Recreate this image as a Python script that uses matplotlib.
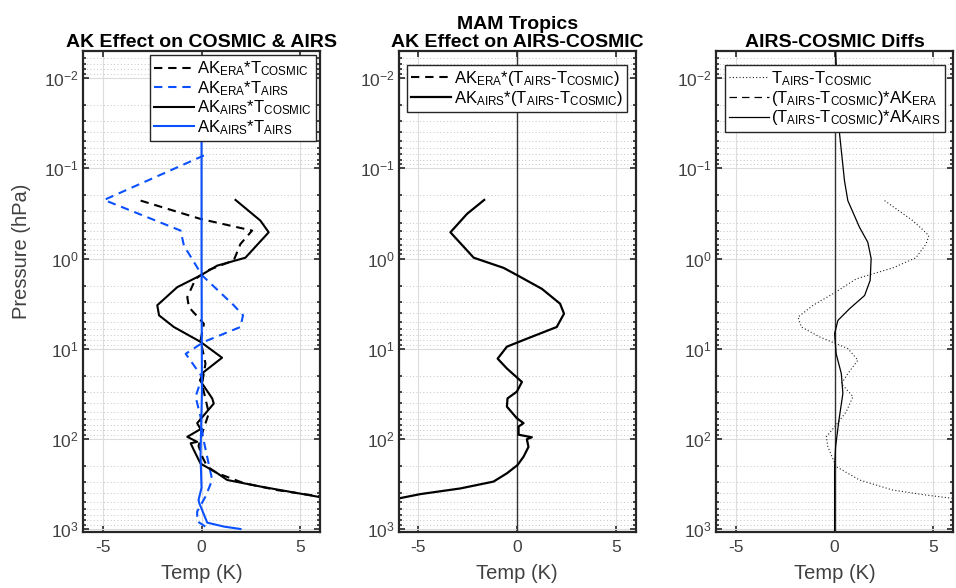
import numpy as np
import matplotlib
matplotlib.use("Agg")
import matplotlib.pyplot as plt

plt.rcParams['font.family'] = ['Liberation Sans', 'DejaVu Sans']
plt.rcParams['mathtext.fontset'] = 'custom'
plt.rcParams['mathtext.rm'] = 'Liberation Sans'
plt.rcParams['mathtext.it'] = 'Liberation Sans'
plt.rcParams['mathtext.default'] = 'regular'
plt.rcParams['axes.unicode_minus'] = False

BLUE = '#0a50ff'
DASH = (0, (4, 2.8))

# panel 1: AK effect on COSMIC & AIRS
era_cosmic_t = [-3.08, -0.05, 2.56, 1.97, 1.63, 0.29, -0.30, -0.72, -0.64, 0.12, -0.05, 0.20, 0.03,
                0.10, 0.37, 0.03, -0.15, 0.05, 0.29, 0.79, 2.14, 3.82, 6.0, 7.5]
era_cosmic_p = [0.228, 0.364, 0.49, 0.69, 1.05, 1.36, 1.68, 2.68, 3.46, 5.3, 8.1, 14.6, 24.4,
                29, 52, 87, 120, 160, 203, 240, 310, 370, 436, 480]

era_airs_t = [0.12, -4.93, -1.06, -0.89, 0.03, 1.63, 2.10, 1.97, 0.12, -0.80, 0.03, -0.30,
              -0.05, 0.07, 0.29, 0.54, 0.20, -0.22, -0.22, 0.29]
era_airs_p = [0.072, 0.224, 0.49, 0.72, 1.54, 3.3, 4.27, 5.75, 8.4, 11.4, 20.6, 34,
              57, 95, 160, 286, 437, 640, 820, 970]

airs_cosmic_t = [1.72, 2.98, 3.40, 2.22, 0.79, -0.05, -1.23, -2.24, -2.15, -1.40, -0.05, 1.04,
                 0.12, -0.08, 0.54, 0.62, -0.22, -0.05, -0.72, -0.22, -0.55, -0.39, -0.05,
                 0.79, 1.30, 2.98, 6.0, 7.5]
airs_cosmic_p = [0.224, 0.38, 0.512, 0.98, 1.2, 1.54, 2.08, 3.3, 4.27, 5.75, 8.4, 12.6,
                 18.1, 22.4, 35.6, 40.6, 67, 78, 95, 108, 112, 133, 188,
                 240, 286, 338, 443, 480]

airs_airs_t = [0.0, 0.0, 0.02, -0.05, 0.0, -0.15, -0.12, 0.29, 1.13, 1.97]
airs_airs_p = [0.05, 1.0, 30, 150, 350, 475, 513, 850, 940, 1000]

# panel 2: AK effect on AIRS-COSMIC
diff_airs_t = [-1.67, -2.54, -3.38, -2.20, -0.69, 0.02, 1.25, 2.17, 2.37, 2.00, 0.49, -0.52,
               -0.99, -0.52, 0.24, -0.02, -0.49, -0.52, -0.02, 0.32, 0.07, 0.07, 0.74, 0.49,
               0.57, 0.32, 0.02, -0.52, -1.20, -2.88, -4.90, -6.0, -7.5]
diff_airs_p = [0.224, 0.32, 0.512, 0.98, 1.27, 1.54, 2.17, 3.17, 4.09, 5.75, 7.75, 9.5,
               12.9, 16.6, 23.4, 30, 35.6, 44, 59, 67, 73, 90, 96, 101,
               123, 158, 195, 241, 298, 355, 410, 458, 500]

# panel 3: AIRS-COSMIC diffs
raw_t = [2.53, 3.96, 4.77, 4.63, 4.12, 2.95, 1.10, -0.08, -1.09, -1.85, -1.68, -0.76, 0.67,
         1.18, 0.67, 0.34, 0.93, 0.59, 0.08, -0.42, -0.34, 0.08, 1.26, 2.95, 4.63, 6.0, 7.5]
raw_p = [0.228, 0.38, 0.556, 0.69, 0.98, 1.27, 1.68, 2.46, 3.3, 4.46, 5.75, 7.4, 9.97,
         13.4, 18.9, 24.4, 34, 50, 70, 95, 123, 203, 286, 370, 420, 458, 500]

airsak_t = [0.05, 0.25, 0.50, 0.67, 1.26, 1.68, 1.85, 1.80, 1.52, 0.76, 0.17, 0.0, 0.08,
            0.34, 0.42, 0.22, 0.05, 0.0, 0.0]
airsak_p = [0.005, 0.041, 0.137, 0.228, 0.45, 0.66, 1.0, 1.75, 2.57, 3.6, 4.85, 6.8, 11.4,
            18.9, 31.4, 62, 123, 203, 1100]

fig = plt.figure(figsize=(9.56, 5.88), dpi=100)
lefts = [0.0868, 0.417, 0.749]
axes = [fig.add_axes([l, 0.0952, 0.248, 0.818]) for l in lefts]

for ax in axes:
    ax.set_yscale('log')
    ax.set_ylim(1080, 0.005)
    ax.set_xlim(-6, 6)
    ax.set_xticks([-5, 0, 5])
    ax.set_yticks([1e-2, 1e-1, 1e0, 1e1, 1e2, 1e3])
    ax.grid(True, which='major', color='#dcdcdc', lw=0.8, ls='-')
    ax.grid(True, which='minor', axis='y', color='#c4c4c4', lw=0.7, ls=(0, (1, 2.5)))
    ax.set_axisbelow(True)
    ax.tick_params(which='both', direction='in', top=True, right=True, colors='#262626',
                   labelcolor='#404040', labelsize=12.5, width=1.2)
    ax.tick_params(which='major', length=4.5)
    ax.tick_params(which='minor', length=2.5)
    ax.tick_params(axis='x', pad=6)
    ax.tick_params(axis='y', pad=3)
    for s in ax.spines.values():
        s.set_linewidth(1.6)
        s.set_color('#262626')
    ax.set_xlabel('Temp (K)', fontsize=14.5, color='#404040', labelpad=6)

leg_kw = dict(frameon=True, fancybox=False, framealpha=1, edgecolor='#262626',
              borderpad=0.25, labelspacing=0.05, handletextpad=0.15, borderaxespad=0.25,
              fontsize=12)

ax = axes[0]
ax.plot(era_cosmic_t, era_cosmic_p, color='k', ls=DASH, lw=1.5,
        label=r'AK$_{ERA}$*T$_{COSMIC}$')
ax.plot(era_airs_t, era_airs_p, color=BLUE, ls=DASH, lw=1.5,
        label=r'AK$_{ERA}$*T$_{AIRS}$')
ax.plot(airs_cosmic_t, airs_cosmic_p, color='k', ls='-', lw=1.5,
        label=r'AK$_{AIRS}$*T$_{COSMIC}$')
ax.plot(airs_airs_t, airs_airs_p, color=BLUE, ls='-', lw=1.5,
        label=r'AK$_{AIRS}$*T$_{AIRS}$')
ax.set_title('AK Effect on COSMIC & AIRS', fontsize=14, fontweight='bold', pad=2)
ax.set_ylabel('Pressure (hPa)', fontsize=14.5, color='#404040')
ax.yaxis.set_label_coords(-0.22, 0.584)
ax.legend(loc='upper right', handlelength=2.4, **leg_kw)

ax = axes[1]
ax.axvline(0, color='#333333', lw=1.0)
ax.plot([], [], color='k', ls=DASH, lw=1.5, label=r'AK$_{ERA}$*(T$_{AIRS}$-T$_{COSMIC}$)')
ax.plot(diff_airs_t, diff_airs_p, color='k', ls='-', lw=1.6,
        label=r'AK$_{AIRS}$*(T$_{AIRS}$-T$_{COSMIC}$)')
ax.set_title('MAM Tropics\nAK Effect on AIRS-COSMIC', fontsize=14, fontweight='bold',
             pad=2, linespacing=1.1)
ax.legend(loc='upper center', handlelength=2.4, bbox_to_anchor=(0.5, 0.98), **leg_kw)

ax = axes[2]
ax.axvline(0, color='#333333', lw=1.0)
ax.plot(raw_t, raw_p, color='#222222', ls=(0, (1, 2)), lw=0.8,
        label=r'T$_{AIRS}$-T$_{COSMIC}$')
ax.plot([], [], color='k', ls=(0, (6, 4)), lw=0.9,
        label=r'(T$_{AIRS}$-T$_{COSMIC}$)*AK$_{ERA}$')
ax.plot(airsak_t, airsak_p, color='k', ls='-', lw=0.9,
        label=r'(T$_{AIRS}$-T$_{COSMIC}$)*AK$_{AIRS}$')
ax.set_title('AIRS-COSMIC Diffs', fontsize=14, fontweight='bold', pad=2)
ax.legend(loc='upper center', handlelength=2.4, bbox_to_anchor=(0.5, 0.98), **leg_kw)

fig.savefig('out.png', dpi=100)
